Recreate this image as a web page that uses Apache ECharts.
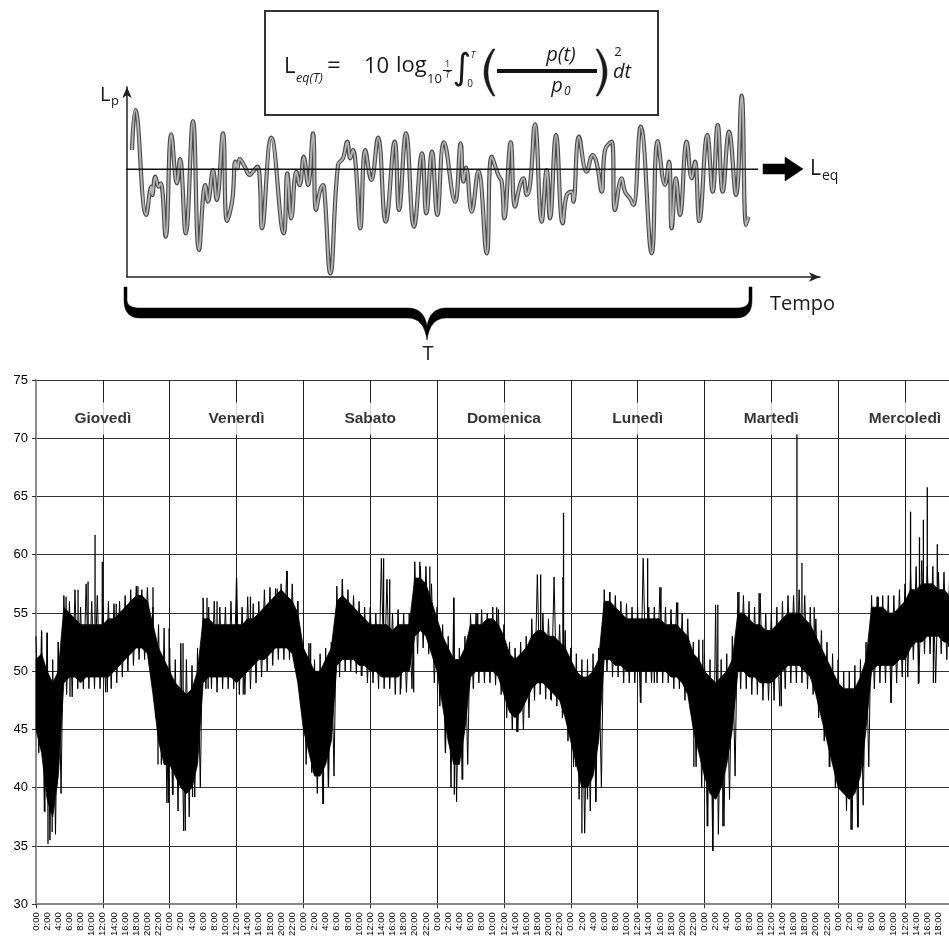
<!DOCTYPE html>
<html><head><meta charset="utf-8">
<script src="https://cdn.jsdelivr.net/npm/echarts@6/dist/echarts.min.js"></script>
<style>html,body{margin:0;padding:0;background:#fff}#c{width:949px;height:939px}</style>
</head><body><div id="c"></div>
<script>
// ---------- bottom chart: 7 days of noise levels (dB(A)) ----------
const DAYS = ['Giovedì','Venerdì','Sabato','Domenica','Lunedì','Martedì','Mercoledì'];
const Y_MIN = 30, Y_MAX = 75, Y_STEP = 5;
const X_MAX_HOURS = 163.9;       // visible part of the 7th day
// dense core of the trace, one value per hour (index = hour from Thursday 0:00)
const LO = [45,43,39,37.5,41,49,49.5,49.5,49,49.5,49.5,49.5,49.5,49.5,50,50.5,51,51.5,52,52,51.5,48,44,42,
  42,41,40,39.5,40,42,49,49.5,49.5,49.5,49.5,49.5,49,49.5,50,50.5,51,51,51.5,52,52,52,51.5,49,
  45,43,41,41,42,44,50.5,51,51,51,50.5,50.5,50,50,49.5,49.5,49.5,49.5,50,50,53,53.5,53,51.5,
  50,47,44,42,42,45,49.5,50,50,50,50,49.5,48,46.5,46,46.5,47.5,48.5,49,49,48.5,48,47.5,46,
  44,42,40,40,41,44,51,51,50.5,50.5,50,50,50,50,50,50,50,50,49.5,49.5,49,48,45,43,
  41,39.5,39,40,42,45,50,50,49.5,49.5,49,49,49,49.5,50,50.5,50.5,50.5,50,49.5,48,46,44,42,
  40,39.5,39,39.5,41,45,50,50.5,50.5,50.5,50.5,51,51,52,52.5,52.5,53,53,53,52.5,52.5];
const HI = [51,51.5,50,49,50,55.5,55,54.5,54,54,54,54,54,54.5,54.5,55,55.5,56,56.5,56.5,56,54,52,51,
  50,49,48.5,48,48.5,50,54.5,54.5,54,54,54,54,54,54,54.5,54.5,55,55.5,56,56.5,57,56.5,56,55,
  52,51,50,50,51,52,56,56.5,56,55.5,55,54.5,54,54,54,54,53.5,54,54,54,58,58,57.5,56,
  54.5,53,52,51,51,52,54,54,54,54.5,54.5,54,53,51.5,51,51.5,52,53,53.5,53.5,53,53,52.5,52,
  51,50,49.5,49.5,50,51,56,56,55.5,55,54.5,54.5,54.5,54.5,54.5,54.5,54.5,54,54,54,53.5,53,51.5,51,
  50,49.5,49,49.5,50,51,55,55,54.5,54,54,53.5,53.5,54,54.5,55,55,55,54.5,54,53,52,51,50,
  49,48.5,48.5,48.5,49.5,51,55.5,55.5,55.5,55,55,55.5,56,57,57,57.5,57.5,57.5,57,57,56.5];
// hourly extremes of the fast fluctuations (max, min within each hour)
const EXT_HI = [53,53.5,53.3,51,52.5, 56.5,56,57,55.5,57.5,56,56.5,55.5,56,55.8,56,56.5, 57,57.3,57,57.2, 55.5,54,53.7,
  52,51,52.4,51,50.5,52, 56.3,55.5,56,55.5,55.5,56,58,55.5,56.4,55.8,56, 57,57.2,57.1,57.5,58.6,57.5, 56,
  52.5,52.4,51,51.5,52,52.5, 57.3,57.9,57,56.5,56, 55.5,55.5,55,59.7,57.9,55,55.3,55,55, 59.4,59,59,57.5,
  55.5,54,53,56.3,52,53, 55,55,55.3,55,55.5,55.3, 54,52.5,52,52.5,53, 54.5,58.3,55,54.5,58.1,54,53.5,
  52,51.5,51,51,51.5,52, 57,56.8,56.5,56,55.8,55.5,55.5, 59.7,55.5,55.5,57.2,55.5,55.3,55.9,55,54.5,
  52.5,52.7,51.5,51,55.7,51,51.5,53, 56.8,56.5,56,55.5,56.7,55,55, 55.5,56,56.5,56.5,57,56.5,55.5, 54.5,53.5,
  52.5,51.5,51,50,50,50.5,51,52.5, 56.5,56.4,56.5,56.5,56.5,57,57.5, 58.5,59,59.5,59,59,58.5,58.5,58];
const EXT_LO = [43,38,35.5,36,39.5, 48,47.8,48.5,48.5,48.5,48.5,48.5,48.2,48.5,49,49.5,50, 50.5,51,51,50.5, 46,42,38.7,
  39.4,38,36.3,37.5,39.2,40, 48.5,48.5,48.2,48.5,48.5,48.5,48,48,48.5,49,49.5, 50,50.5,51,51,51,50.5, 47,
  42,41.3,39.5,38.6,40.1,41, 49.5,50,50,49.8,49.6, 49,49,48.5,48.5,48.5,48,48.5,48.2,48.5, 51.5,52,51.5,49,
  47,43,40,38.8,40.7,42, 48.5,49,49,49,48.8,48, 46,45,44.8,45,46, 47.5,48,47.6,47.5,47,46,44,
  41.8,39,36.1,38,38.8,40, 50,49.5,49.5,49,49,49,47.3, 49,49,49,49,49,48.5,48.5,47.5,46.5,
  41.8,40,36.7,34.6,36,36.7,39,41, 48.5,48.5,48,48,47.5,47.5,47.5, 47,48.5,49,49,49,48.5,48, 46,44,
  41.8,40,39.9,38,36.4,36.6,38.5,41.8, 48.5,49,49,47.3,49,49.5,49.5, 51,49,51.5,51.5,49,51.5,51,51];
// isolated peaks / troughs: [hour, level]
const SPIKES = [[1.0,53.4],[1.6,37.9],[2.0,53.3],[2.15,35.2],[2.9,36.2],[3.75,40.1],[4.0,52.5],[5.4,56.4],[6.1,47.8],
  [7.55,57],[9.35,57.7],[10.6,61.7],[11.9,59.4],[12.8,48.2],[14.4,55.8],[18.3,57.3],[21,57.2],
  [21.9,42],[23.8,38.7],[23.9,53.7],[24.6,39.4],[26.4,52.4],[26.8,36.3],[28.1,39.2],[30.7,56.3],[30.9,48.5],
  [32.5,56],[36,58],[37.2,48],[38.5,56.4],[43.3,57.1],[45.1,58.6],[47,56],
  [49.3,52.4],[49.8,41.3],[51.6,38.6],[52.5,40.1],[55,57.9],[58.4,49.6],[62.4,59.7],[63.5,57.9],[65.4,48],
  [67.8,48.2],[68.9,59.4],[70.7,59],
  [73.5,43],[75,56.3],[75.1,39.4],[76.6,40.7],[79.3,55],[82.7,55.5],[86.3,44.8],[90.6,58.3],[92.4,47.6],
  [94.6,58.1],[94.7,63.6],
  [96.9,41.8],[98,36.1],[99,39],[100.5,38.8],[103,56.8],[108.6,47.3],[109.8,59.7],[111,49],[112.2,57.2],[115.2,55.9],
  [118.1,41.8],[119.7,52.7],[120.6,36.7],[121.5,34.6],[122.4,55.7],[123.3,36.7],[126.2,56.8],[129.8,56.7],
  [133.8,47],[136.6,70.4],[137.5,59.3],[139.7,55.5],
  [142.4,41.8],[144.5,39.9],[146.3,36.4],[147.6,36.6],[148.5,41.8],[151.2,56.4],[153.5,47.3],[157,63.7],
  [158.4,48.9],[158.6,61.5],[159.3,63],[160,65.8],[161.1,49],[161.8,60.9],[163.8,52.1]];

// ---------- top illustration: generic Lp(t) trace ----------
const LEQ_LEVEL = 107.7;
const LP_TRACE = [[5,127],[8.3,167],[19.3,62],[24.3,90.3],[25.3,82],[28.3,100.3],[31.7,90.3],[33.7,93.7],[38.7,40.3],
  [44.3,142.7],[50,93.7],[53,118],[58.7,43.7],[66,156],[72,27],[78.3,92],[81,75.3],[86,107],[89.7,77],[96,143.7],
  [100,56],[105.3,77],[108.3,115.3],[110.3,108.7],[112.7,118],[117.7,110.3],[122.7,102],[126,105.3],[130.3,110.3],
  [132.7,98.7],[135,48.7],[144.3,139.3],[156.7,43.7],[160.3,103.7],[164.3,58.7],[169.3,105.3],[172.7,92],
  [176.7,120.3],[181,92],[186,143.7],[189,67],[193.3,87],[196,92],[197.7,82],[203.3,3.7],[211,112],[216,118.7],
  [220.3,135.3],[223.3,118.7],[226,127],[228.7,112],[233.3,48.7],[238.3,127],[244.3,97],[251,139.3],[258.7,55.3],
  [267.7,135.3],[272,67],[279,143.7],[287,50.3],[295,123.7],[299.3,63.7],[305,125.3],[310.3,62],[317,134.7],
  [328,75.3],[333.7,133.7],[336.3,95.3],[339,109.3],[344.7,65.3],[351.3,106],[359.7,23.7],[364.7,120.3],
  [371.3,102],[374.7,95.3],[377.3,58.7],[383.7,134.7],[388,70.3],[393,92],[396.3,98.7],[399.7,82],[403,92],
  [408,152.7],[414.7,55.3],[419.7,107],[423,58.7],[429,142],[435.7,53.7],[439.7,82],[444.7,85.3],[446.3,75.3],
  [452,140.3],[459.7,105.3],[465.7,122],[469.7,113.7],[474.7,85.3],[478,127],[484.7,135.3],[488,67],[494.7,98.7],
  [498,85.3],[503,78.7],[506.3,72],[513.7,150.3],[524.7,23.7],[530.7,136],[538,92],[542,115.3],[544.7,48.7],
  [549,98.7],[553,62],[559.7,135.3],[564.7,98.7],[568,115.3],[572.3,56],[580.3,142],[585.7,85.3],[590.7,152],
  [595.7,85.3],[602,145.3],[609,82],[614.7,181.3],[619,52],[621.3,60.3]];

// ---------- build series data ----------
const zigzag = [];
for (let i = 0; i < EXT_HI.length; i++) { zigzag.push([i, EXT_HI[i]]); zigzag.push([i + 0.5, EXT_LO[i]]); }
const spikeData = SPIKES.map(s => {
  const k = Math.min(LO.length - 1, Math.round(s[0]));
  return [s[0], s[1], (LO[k] + HI[k]) / 2];
});
const dayLabelData = DAYS.map((d, i) => ({ name: d, value: [i * 24 + 12, 71.7] }));

// ---------- drawing helpers for the decorations ----------
function quad(p0, c, p1, n) {
  const pts = [];
  for (let k = 0; k <= n; k++) {
    const t = k / n, u = 1 - t;
    pts.push([u * u * p0[0] + 2 * u * t * c[0] + t * t * p1[0], u * u * p0[1] + 2 * u * t * c[1] + t * t * p1[1]]);
  }
  return pts;
}
function poly(points, fill) {
  return { type: 'polygon', shape: { points: points }, style: { fill: fill, stroke: fill, lineWidth: 0.5 }, silent: true, z: 10 };
}
const leftParen = quad([493, 49], [475, 72], [493, 96], 16).concat(quad([495, 96], [481, 72], [495, 49], 16));
const rightParen = quad([598, 49], [616, 72], [598, 96], 16).concat(quad([596, 96], [610, 72], [596, 49], 16));
const brace = [[124, 287]].concat(
  quad([124, 300], [124, 318], [140, 318], 8),
  quad([408, 318], [424, 318], [427, 340], 8),
  quad([427, 340], [430, 318], [446, 318], 8),
  quad([736, 318], [752, 318], [752, 300], 8),
  [[752, 287], [749, 287]],
  quad([749, 300], [749, 308], [736, 308], 8),
  quad([446, 308], [430, 308], [427, 326], 8),
  quad([427, 326], [424, 308], [408, 308], 8),
  quad([140, 308], [127, 308], [127, 300], 8),
  [[127, 287]]);

const chart = echarts.init(document.getElementById('c'), null, { renderer: 'canvas' });
const SANS = 'Liberation Sans';
const ILL = 'Open Sans';
const ink = '#1a1a1a';
function txt(x, y, t, size, opt) {
  opt = opt || {};
  return { type: 'text', x: x, y: y, silent: true, z: 10,
    style: { text: t, fontSize: size, fontFamily: opt.family || ILL, fontStyle: opt.italic ? 'italic' : 'normal',
      fill: ink, align: opt.align || 'left', verticalAlign: 'middle' } };
}

chart.setOption({
  animation: false,
  backgroundColor: '#fff',
  grid: [
    { left: 36, top: 380, right: 0, height: 525 },
    { left: 127, top: 87, width: 693, height: 190 }
  ],
  xAxis: [
    { gridIndex: 0, type: 'value', min: 0, max: X_MAX_HOURS, interval: 2, position: 'bottom',
      axisLine: { show: true, lineStyle: { color: '#8a8a8a', width: 2 } },
      axisTick: { show: false },
      axisLabel: { rotate: 90, fontSize: 9.5, fontFamily: SANS, color: '#000', margin: 8, showMaxLabel: false,
        formatter: v => (Math.abs(v % 2) < 1e-9 ? (v % 24) + ':00' : '') },
      splitLine: { show: false } },
    { gridIndex: 0, type: 'value', min: 0, max: X_MAX_HOURS, interval: 12, position: 'bottom',
      axisLine: { show: false },
      axisTick: { show: true, length: 4, lineStyle: { color: '#333' } },
      axisLabel: { show: false },
      splitLine: { show: true, lineStyle: { color: '#1e1e1e', width: 1 } } },
    { gridIndex: 1, type: 'value', min: 0, max: 693,
      axisLine: { show: true, symbol: ['none', 'arrow'], symbolSize: [7, 11], lineStyle: { color: '#222', width: 1.5 } },
      axisTick: { show: false }, axisLabel: { show: false }, splitLine: { show: false } }
  ],
  yAxis: [
    { gridIndex: 0, type: 'value', min: Y_MIN, max: Y_MAX, interval: Y_STEP,
      axisLine: { show: true, lineStyle: { color: '#8a8a8a', width: 2 } },
      axisTick: { show: true, length: 4, lineStyle: { color: '#333' } },
      axisLabel: { fontSize: 13, fontFamily: SANS, color: '#000', margin: 8 },
      splitLine: { show: true, lineStyle: { color: '#333', width: 1.2 } } },
    { gridIndex: 1, type: 'value', min: 0, max: 190,
      axisLine: { show: true, symbol: ['none', 'arrow'], symbolSize: [7, 11], lineStyle: { color: '#222', width: 1.5 } },
      axisTick: { show: false }, axisLabel: { show: false }, splitLine: { show: false } }
  ],
  series: [
    { type: 'custom', xAxisIndex: 0, yAxisIndex: 0, silent: true, data: [[0, LO[0], HI[0]]],
      encode: { x: 0, y: [1, 2] },
      renderItem: (p, api) => {
        const pts = [];
        for (let i = 0; i < LO.length; i++) pts.push(api.coord([i, LO[i]]));
        for (let i = HI.length - 1; i >= 0; i--) pts.push(api.coord([i, HI[i]]));
        return { type: 'polygon', shape: { points: pts }, style: { fill: '#000', stroke: '#000', lineWidth: 0.8 } };
      } },
    { type: 'line', xAxisIndex: 0, yAxisIndex: 0, data: zigzag, symbol: 'none', silent: true,
      lineStyle: { color: '#000', width: 1 } },
    { type: 'custom', xAxisIndex: 0, yAxisIndex: 0, silent: true, data: spikeData,
      encode: { x: 0, y: [1, 2] },
      renderItem: (p, api) => {
        const a = api.coord([api.value(0), api.value(1)]);
        const b = api.coord([api.value(0), api.value(2)]);
        return { type: 'line', shape: { x1: a[0], y1: a[1], x2: b[0], y2: b[1] }, style: { stroke: '#000', lineWidth: 1.3 } };
      } },
    { type: 'scatter', xAxisIndex: 0, yAxisIndex: 0, silent: true, data: dayLabelData, symbolSize: 1,
      itemStyle: { color: 'rgba(0,0,0,0)' }, z: 5,
      label: { show: true, position: 'inside', formatter: '{b}', fontFamily: SANS, fontWeight: 'bold', fontSize: 15.5,
        color: '#000', backgroundColor: '#fff', padding: [8, 4] } },
    { type: 'line', xAxisIndex: 2, yAxisIndex: 1, data: LP_TRACE, smooth: 0.45, symbol: 'none', silent: true,
      lineStyle: { color: '#4a4a4a', width: 4.2 } },
    { type: 'line', xAxisIndex: 2, yAxisIndex: 1, data: LP_TRACE, smooth: 0.45, symbol: 'none', silent: true,
      lineStyle: { color: '#b4b4b4', width: 2 } },
    { type: 'line', xAxisIndex: 2, yAxisIndex: 1, data: [[-8, LEQ_LEVEL], [631, LEQ_LEVEL]], clip: false,
      symbol: 'none', silent: true, z: 3, lineStyle: { color: '#111', width: 1.6 } }
  ],
  graphic: [
    { type: 'rect', shape: { x: 265, y: 11, width: 393, height: 104 }, style: { fill: 'none', stroke: '#333', lineWidth: 2 }, silent: true },
    txt(284, 67, 'L', 22),
    txt(296, 78, 'eq(T)', 12.5, { italic: true }),
    txt(327, 66, '=', 24),
    txt(364, 67, '10', 22),
    txt(396, 66, 'log', 22),
    txt(427, 79, '10', 13),
    txt(447.5, 64.5, '1', 9, { align: 'center' }),
    { type: 'rect', shape: { x: 443, y: 70, width: 9, height: 1 }, style: { fill: ink }, silent: true },
    txt(447.5, 75.5, 'T', 9, { align: 'center', italic: true }),
    txt(462, 70, '∫', 36, { align: 'center', family: 'DejaVu Sans' }),
    txt(473, 55, 'T', 9, { align: 'center', italic: true }),
    txt(470, 84, '0', 10, { align: 'center' }),
    poly(leftParen, ink),
    poly(rightParen, ink),
    { type: 'rect', shape: { x: 497, y: 69, width: 100, height: 4 }, style: { fill: '#111' }, silent: true },
    txt(561, 55, 'p(t)', 20, { align: 'center', italic: true }),
    txt(557, 86, 'p', 20, { align: 'center', italic: true }),
    txt(564, 92, '0', 12, { italic: true }),
    txt(618, 52, '2', 13, { align: 'center' }),
    txt(613, 72, 'dt', 20, { italic: true }),
    txt(100, 95, 'L', 20),
    txt(111, 101, 'p', 13),
    poly([[763, 164], [785, 164], [785, 157], [803, 169], [785, 181], [785, 174], [763, 174]], '#000'),
    txt(810, 169, 'L', 21),
    txt(822, 176, 'eq', 14),
    txt(770, 304, 'Tempo', 20),
    txt(428, 354, 'T', 20, { align: 'center' }),
    poly(brace, '#000')
  ]
});
</script></body></html>
